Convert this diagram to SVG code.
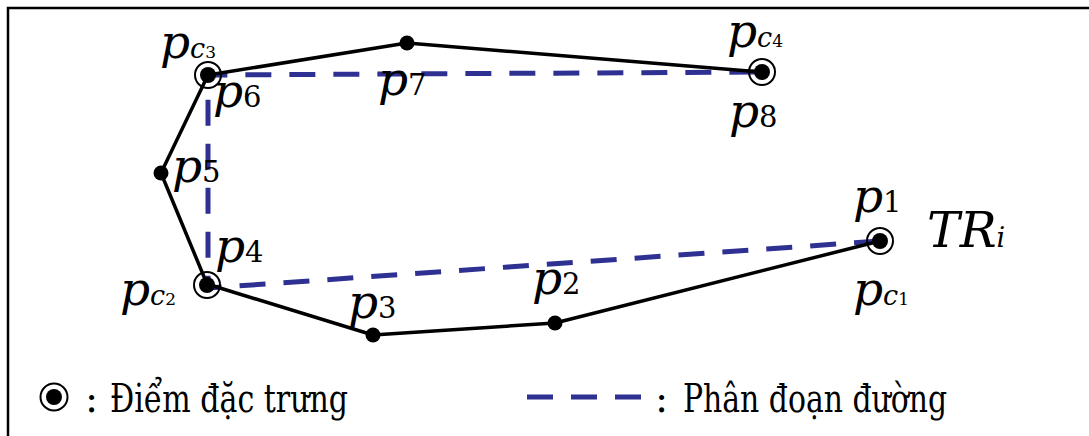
<svg xmlns="http://www.w3.org/2000/svg" width="1089" height="436" viewBox="0 0 1089 436">
<style>
.frame{stroke:#000;stroke-width:2.5;fill:none}
.path{stroke:#000;stroke-width:3.5;fill:none;stroke-linejoin:round}
.seg{stroke:#2e3192;stroke-width:5;fill:none;stroke-dasharray:26 18}
.dot{fill:#000}
.ring{fill:none;stroke:#000;stroke-width:2}
text{fill:#000;font-family:"DejaVu Serif","Liberation Serif",serif}
.p{font-style:italic;font-size:47px}
.n{font-size:29px}
.c{font-style:italic;font-size:27px}
.cn{font-size:17px}
.t{font-style:italic;font-size:49px}
.lg{font-size:39px}
</style>
<rect width="1089" height="436" fill="#fff"/>
<path class="frame" d="M8 436V8H1089"/>
<g id="connectors">
<polyline class="seg" points="880,241 208,288 208,75 761,72"/>
<polyline class="path" points="880,241 555,323 373,335 207,284 161,173 208,75 407,43 761,72"/>
</g>
<g id="p1"><circle class="ring" cx="880" cy="241" r="13"/><circle class="dot" cx="880" cy="241" r="8"/>
<text x="853" y="212"><tspan class="p">p</tspan><tspan class="n">1</tspan></text>
<text x="853" y="305"><tspan class="p">p</tspan><tspan class="c">c</tspan><tspan class="cn">1</tspan></text>
<text x="927" y="247"><tspan class="t">TR</tspan><tspan class="c">i</tspan></text></g>
<g id="p2"><circle class="dot" cx="555" cy="323" r="7.5"/>
<text x="532" y="294"><tspan class="p">p</tspan><tspan class="n">2</tspan></text></g>
<g id="p3"><circle class="dot" cx="373" cy="335" r="7.5"/>
<text x="348" y="318"><tspan class="p">p</tspan><tspan class="n">3</tspan></text></g>
<g id="p4"><circle class="ring" cx="207" cy="285" r="13"/><circle class="dot" cx="207" cy="285" r="8"/>
<text x="215" y="262"><tspan class="p">p</tspan><tspan class="n">4</tspan></text>
<text x="120" y="305"><tspan class="p">p</tspan><tspan class="c">c</tspan><tspan class="cn">2</tspan></text></g>
<g id="p5"><circle class="dot" cx="161" cy="173" r="7.5"/>
<text x="172" y="182"><tspan class="p">p</tspan><tspan class="n">5</tspan></text></g>
<g id="p6"><circle class="ring" cx="208" cy="75" r="13"/><circle class="dot" cx="208" cy="75" r="8"/>
<text x="213" y="107"><tspan class="p">p</tspan><tspan class="n">6</tspan></text>
<text x="160" y="58"><tspan class="p">p</tspan><tspan class="c">c</tspan><tspan class="cn">3</tspan></text></g>
<g id="p7"><circle class="dot" cx="407" cy="43" r="7.5"/>
<text x="378" y="95"><tspan class="p">p</tspan><tspan class="n">7</tspan></text></g>
<g id="p8"><circle class="ring" cx="762" cy="72" r="13"/><circle class="dot" cx="762" cy="72" r="8"/>
<text x="729" y="127"><tspan class="p">p</tspan><tspan class="n">8</tspan></text>
<text x="727" y="47"><tspan class="p">p</tspan><tspan class="c">c</tspan><tspan class="cn">4</tspan></text></g>
<g id="legend">
<circle class="ring" cx="54" cy="397" r="13.5" stroke-width="2.5"/><circle class="dot" cx="54" cy="397" r="8"/>
<text class="lg" x="85" y="412">:</text>
<text class="lg" x="110" y="412" textLength="238" lengthAdjust="spacingAndGlyphs">Điểm đặc trưng</text>
<line class="seg" x1="527" y1="397" x2="641" y2="397"/>
<text class="lg" x="655" y="412">:</text>
<text class="lg" x="683" y="412" textLength="264" lengthAdjust="spacingAndGlyphs">Phân đoạn đường</text>
</g>
</svg>
